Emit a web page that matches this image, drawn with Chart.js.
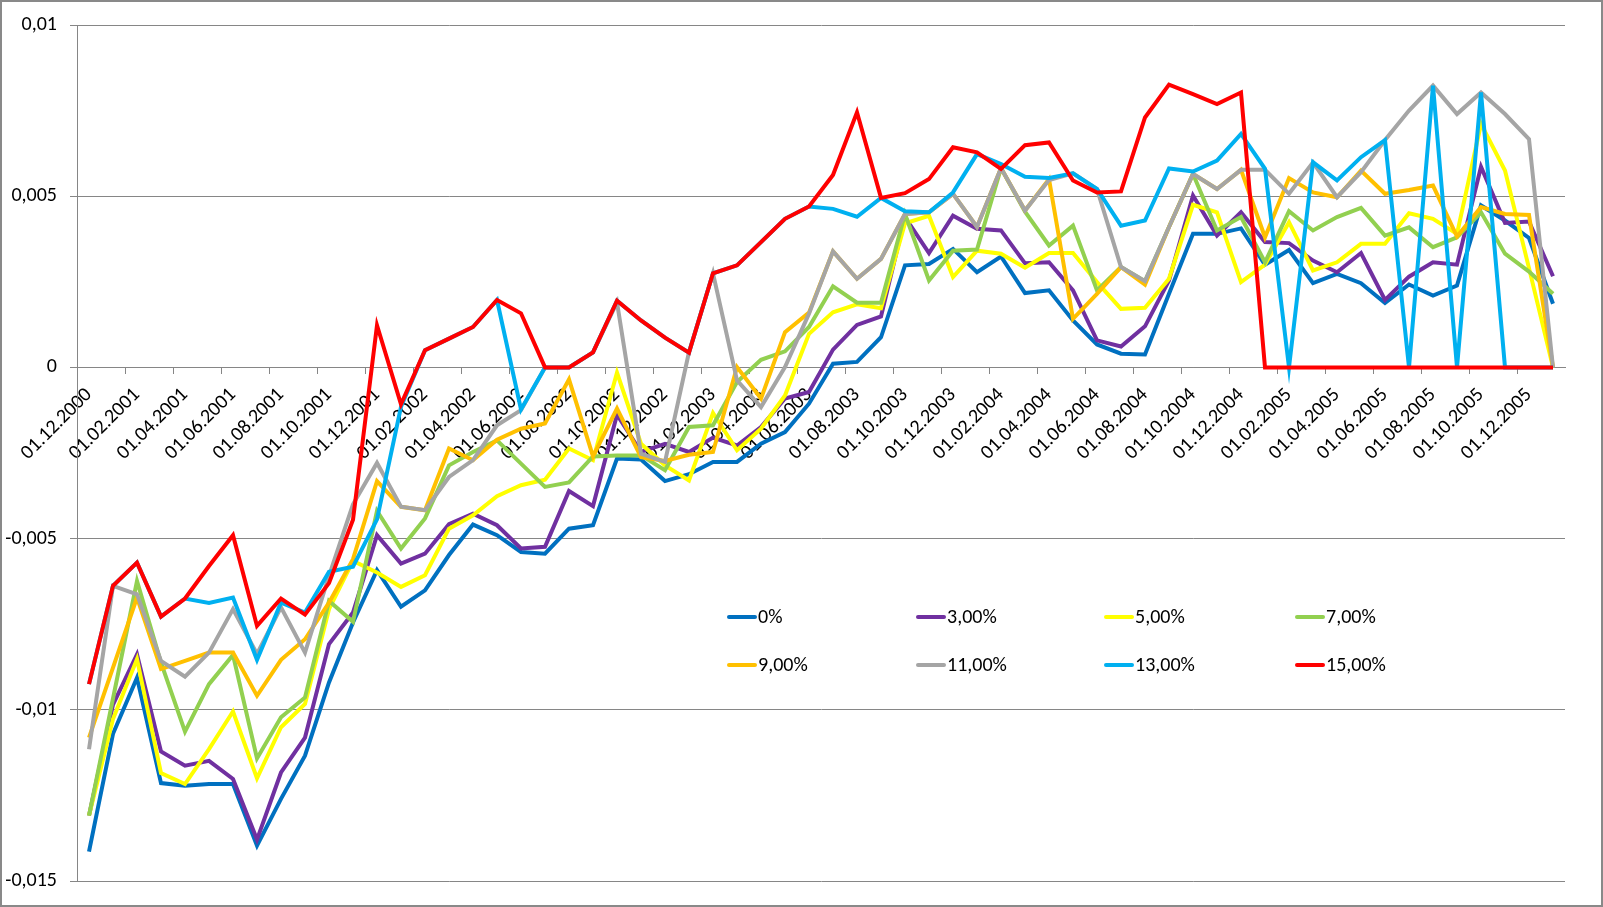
<!DOCTYPE html>
<html>
<head>
<meta charset="utf-8">
<script src="https://cdn.jsdelivr.net/npm/chart.js@4.4.1/dist/chart.umd.min.js"></script>
<style>
  html, body { margin: 0; padding: 0; background: #fff; }
  #wrap { width: 1603px; height: 907px; position: relative; }
</style>
</head>
<body>
<div id="wrap"><canvas id="line-chart"></canvas></div>
<script>
var labelsData = [
  "01.12.2000", "01.01.2001", "01.02.2001", "01.03.2001", "01.04.2001", "01.05.2001", "01.06.2001",
  "01.07.2001", "01.08.2001", "01.09.2001", "01.10.2001", "01.11.2001", "01.12.2001",
  "01.01.2002", "01.02.2002", "01.03.2002", "01.04.2002", "01.05.2002", "01.06.2002",
  "01.07.2002", "01.08.2002", "01.09.2002", "01.10.2002", "01.11.2002", "01.12.2002",
  "01.01.2003", "01.02.2003", "01.03.2003", "01.04.2003", "01.05.2003", "01.06.2003",
  "01.07.2003", "01.08.2003", "01.09.2003", "01.10.2003", "01.11.2003", "01.12.2003",
  "01.01.2004", "01.02.2004", "01.03.2004", "01.04.2004", "01.05.2004", "01.06.2004",
  "01.07.2004", "01.08.2004", "01.09.2004", "01.10.2004", "01.11.2004", "01.12.2004",
  "01.01.2005", "01.02.2005", "01.03.2005", "01.04.2005", "01.05.2005", "01.06.2005",
  "01.07.2005", "01.08.2005", "01.09.2005", "01.10.2005", "01.11.2005", "01.12.2005",
  "01.01.2006"
];

var seriesNames = ["0%", "3,00%", "5,00%", "7,00%", "9,00%", "11,00%", "13,00%", "15,00%"];
var seriesColors = ["#0070C0", "#7030A0", "#FFFF00", "#92D050", "#FFC000", "#A5A5A5", "#00B0F0", "#FF0000"];

var rate0 = [
  -0.01414, -0.01070, -0.00906, -0.01214, -0.01222, -0.01217, -0.01217, -0.01397, -0.01260, -0.01134,
  -0.00920, -0.00745, -0.00592, -0.00699, -0.00651, -0.00548, -0.00459, -0.00490, -0.00539, -0.00544,
  -0.00471, -0.00461, -0.00266, -0.00269, -0.00332, -0.00312, -0.00276, -0.00276, -0.00223, -0.00189,
  -0.00106, 0.00011, 0.00016, 0.00088, 0.00298, 0.00302, 0.00346, 0.00278, 0.00324, 0.00217,
  0.00225, 0.00137, 0.00067, 0.00040, 0.00038, 0.00215, 0.00390, 0.00390, 0.00406, 0.00300,
  0.00343, 0.00246, 0.00273, 0.00246, 0.00188, 0.00242, 0.00210, 0.00239, 0.00473, 0.00429,
  0.00378, 0.00186
];
var rate3 = [
  -0.01309, -0.00985, -0.00838, -0.01122, -0.01163, -0.01149, -0.01202, -0.01379, -0.01183, -0.01081,
  -0.00808, -0.00716, -0.00490, -0.00573, -0.00544, -0.00458, -0.00427, -0.00461, -0.00529, -0.00524,
  -0.00361, -0.00405, -0.00138, -0.00247, -0.00223, -0.00247, -0.00205, -0.00228, -0.00174, -0.00091,
  -0.00072, 0.00052, 0.00124, 0.00149, 0.00439, 0.00334, 0.00443, 0.00405, 0.00400, 0.00304,
  0.00307, 0.00225, 0.00079, 0.00061, 0.00120, 0.00254, 0.00502, 0.00385, 0.00453, 0.00366,
  0.00363, 0.00312, 0.00278, 0.00334, 0.00197, 0.00265, 0.00307, 0.00300, 0.00586, 0.00422,
  0.00426, 0.00266
];
var rate5 = [
  -0.01309, -0.01027, -0.00852, -0.01185, -0.01217, -0.01115, -0.01005, -0.01200, -0.01051, -0.00983,
  -0.00706, -0.00565, -0.00599, -0.00641, -0.00607, -0.00471, -0.00432, -0.00376, -0.00344, -0.00328,
  -0.00237, -0.00271, -0.00015, -0.00223, -0.00286, -0.00330, -0.00133, -0.00242, -0.00179, -0.00082,
  0.00098, 0.00161, 0.00184, 0.00173, 0.00421, 0.00443, 0.00264, 0.00341, 0.00332, 0.00291,
  0.00334, 0.00334, 0.00249, 0.00171, 0.00174, 0.00259, 0.00475, 0.00453, 0.00249, 0.00300,
  0.00424, 0.00283, 0.00307, 0.00361, 0.00361, 0.00450, 0.00434, 0.00390, 0.00711, 0.00575,
  0.00290, 0
];
var rate7 = [
  -0.01309, -0.00967, -0.00624, -0.00862, -0.01064, -0.00925, -0.00840, -0.01142, -0.01022, -0.00964,
  -0.00682, -0.00743, -0.00419, -0.00529, -0.00441, -0.00286, -0.00247, -0.00213, -0.00281, -0.00349,
  -0.00336, -0.00260, -0.00257, -0.00257, -0.00300, -0.00174, -0.00169, -0.00043, 0.00022, 0.00047,
  0.00118, 0.00237, 0.00189, 0.00189, 0.00448, 0.00254, 0.00341, 0.00344, 0.00582, 0.00455,
  0.00356, 0.00414, 0.00225, 0.00293, 0.00252, 0.00410, 0.00565, 0.00400, 0.00439, 0.00307,
  0.00456, 0.00400, 0.00439, 0.00466, 0.00385, 0.00409, 0.00351, 0.00380, 0.00453, 0.00332,
  0.00280, 0.00215
];
var rate9 = [
  -0.01081, -0.00877, -0.00672, -0.00881, -0.00857, -0.00833, -0.00833, -0.00959, -0.00854, -0.00794,
  -0.00687, -0.00560, -0.00332, -0.00407, -0.00417, -0.00237, -0.00271, -0.00211, -0.00179, -0.00164,
  -0.00035, -0.00260, -0.00120, -0.00262, -0.00273, -0.00255, -0.00247, 0.00001, -0.00091, 0.00103,
  0.00160, 0.00339, 0.00259, 0.00317, 0.00448, 0.00453, 0.00507, 0.00410, 0.00582, 0.00458,
  0.00550, 0.00142, 0.00215, 0.00293, 0.00242, 0.00410, 0.00565, 0.00521, 0.00577, 0.00380,
  0.00553, 0.00511, 0.00497, 0.00575, 0.00507, 0.00518, 0.00531, 0.00382, 0.00468, 0.00448,
  0.00445, 0
];
var rate11 = [
  -0.01115, -0.00638, -0.00663, -0.00857, -0.00903, -0.00833, -0.00706, -0.00837, -0.00701, -0.00833,
  -0.00609, -0.00400, -0.00279, -0.00407, -0.00417, -0.00320, -0.00271, -0.00169, -0.00125, 0,
  0, 0.00044, 0.00190, -0.00252, -0.00276, 0.00045, 0.00275, -0.00038, -0.00116, 0.00001,
  0.00157, 0.00339, 0.00259, 0.00317, 0.00448, 0.00453, 0.00507, 0.00410, 0.00582, 0.00458,
  0.00547, 0.00567, 0.00521, 0.00293, 0.00252, 0.00410, 0.00565, 0.00521, 0.00577, 0.00577,
  0.00507, 0.00599, 0.00497, 0.00570, 0.00664, 0.00750, 0.00823, 0.00740, 0.00803, 0.00740,
  0.00667, 0
];
var rate13 = [
  -0.00925, -0.00638, -0.00570, -0.00728, -0.00675, -0.00688, -0.00672, -0.00854, -0.00687, -0.00716,
  -0.00597, -0.00582, -0.00444, -0.00115, 0.00050, 0.00084, 0.00118, 0.00197, -0.00123, 0,
  0, 0.00044, 0.00195, 0.00137, 0.00087, 0.00043, 0.00275, 0.00298, 0.00366, 0.00434,
  0.00470, 0.00463, 0.00440, 0.00495, 0.00456, 0.00453, 0.00511, 0.00623, 0.00594, 0.00557,
  0.00553, 0.00567, 0.00521, 0.00414, 0.00429, 0.00581, 0.00572, 0.00604, 0.00682, 0.00580,
  0, 0.00599, 0.00546, 0.00614, 0.00664, 0, 0.00823, 0, 0.00803, 0,
  0, 0
];
var rate15 = [
  -0.00925, -0.00638, -0.00570, -0.00728, -0.00675, -0.00580, -0.00490, -0.00755, -0.00675, -0.00722,
  -0.00630, -0.00445, 0.00123, -0.00108, 0.00050, 0.00084, 0.00118, 0.00197, 0.00158, 0,
  0, 0.00044, 0.00195, 0.00137, 0.00087, 0.00043, 0.00275, 0.00298, 0.00366, 0.00434,
  0.00470, 0.00562, 0.00745, 0.00495, 0.00509, 0.00550, 0.00643, 0.00628, 0.00580, 0.00649,
  0.00657, 0.00546, 0.00511, 0.00514, 0.00730, 0.00826, 0.00798, 0.00769, 0.00803, 0,
  0, 0, 0, 0, 0, 0, 0, 0, 0, 0,
  0, 0
];

var yTicks = [-0.015, -0.01, -0.005, 0, 0.005, 0.01];

var allSeries = [rate0, rate3, rate5, rate7, rate9, rate11, rate13, rate15];
var fontFamily = "Carlito, Lato, 'Liberation Sans', sans-serif";

// later series sit on top, like in the spreadsheet
var datasets = allSeries.map(function (values, i) {
  return {
    label: seriesNames[i],
    data: values,
    borderColor: seriesColors[i],
    backgroundColor: seriesColors[i],
    borderWidth: 4,
    pointRadius: 0,
    tension: 0,
    order: allSeries.length - i
  };
});

var legendAndFrame = {
  id: "legendAndFrame",
  afterDraw: function (chart) {
    var ctx = chart.ctx;
    var cols = [729, 918, 1106, 1297];
    var rows = [617, 665];
    ctx.save();
    ctx.font = "20px " + fontFamily;
    ctx.textBaseline = "middle";
    ctx.textAlign = "left";
    chart.data.datasets.forEach(function (ds, i) {
      var x = cols[i % 4], y = rows[Math.floor(i / 4)];
      ctx.strokeStyle = ds.borderColor;
      ctx.lineWidth = 4;
      ctx.lineCap = "round";
      ctx.beginPath();
      ctx.moveTo(x, y);
      ctx.lineTo(x + 26, y);
      ctx.stroke();
      ctx.fillStyle = "#000";
      ctx.fillText(ds.label, x + 29, y + 1);
    });
    ctx.lineWidth = 2;
    ctx.strokeStyle = "#898989";
    ctx.strokeRect(1, 1, chart.width - 2, chart.height - 2);
    ctx.restore();
  }
};

var config = {
  type: "line",
  data: {
    labels: labelsData,
    datasets: datasets
  },
  options: {
    responsive: true,
    maintainAspectRatio: false,
    devicePixelRatio: 1,
    animation: false,
    layout: {
      padding: { left: 0, top: 24, right: 38, bottom: 26 }
    },
    plugins: {
      legend: false,
      tooltip: { enabled: false }
    },
    scales: {
      x: {
        type: "category",
        position: { y: 0 },
        offset: true,
        grid: {
          display: true,
          offset: true,
          drawOnChartArea: false,
          drawTicks: true,
          tickLength: 6,
          color: function (c) { return c.index % 2 === 0 ? "#868686" : "rgba(0,0,0,0)"; }
        },
        border: { display: true, color: "#868686", width: 1 },
        ticks: {
          autoSkip: false,
          minRotation: 45,
          maxRotation: 45,
          padding: 10,
          color: "#000",
          font: { size: 20, family: fontFamily },
          callback: function (val, idx) { return idx % 2 === 0 ? labelsData[idx] : ""; }
        }
      },
      y: {
        min: yTicks[0],
        max: yTicks[yTicks.length - 1],
        afterBuildTicks: function (scale) {
          scale.ticks = yTicks.map(function (v) { return { value: v }; });
        },
        afterFit: function (scale) { scale.width = 77; },
        grid: {
          color: "#868686",
          lineWidth: 1,
          drawTicks: true,
          tickLength: 7
        },
        border: { display: true, color: "#868686", width: 1 },
        ticks: {
          padding: 13,
          color: "#000",
          font: { size: 20, family: fontFamily },
          callback: function (v) {
            return String(Math.round(v * 1000) / 1000).replace(".", ",");
          }
        }
      }
    }
  },
  plugins: [legendAndFrame]
};

var lineChart = new Chart(document.getElementById("line-chart"), config);
</script>
</body>
</html>
